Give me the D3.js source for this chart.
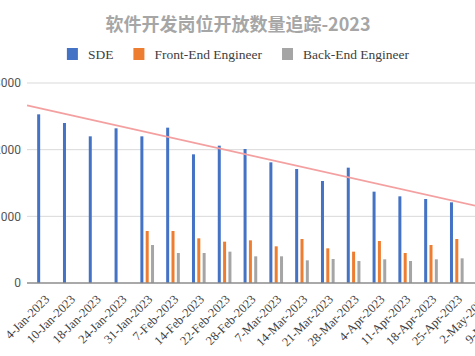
<!DOCTYPE html>
<html><head><meta charset="utf-8">
<script src="https://cdn.jsdelivr.net/npm/d3@7"></script>
<style>body{margin:0;background:#fff;overflow:hidden}svg{display:block}</style>
</head><body>
<svg id="c" width="475" height="356"></svg>
<script>
const categories = ["4-Jan-2023","10-Jan-2023","18-Jan-2023","24-Jan-2023","31-Jan-2023","7-Feb-2023","14-Feb-2023","22-Feb-2023","28-Feb-2023","7-Mar-2023","14-Mar-2023","21-Mar-2023","28-Mar-2023","4-Apr-2023","11-Apr-2023","18-Apr-2023","25-Apr-2023","2-May-2023","9-May-2023"];
const sde      = [2530,2400,2200,2320,2200,2330,1930,2060,2010,1810,1710,1530,1730,1370,1300,1260,1210,1150,1100];
const frontEnd = [0,0,0,0,780,780,670,620,640,550,660,520,470,630,450,570,660,600,580];
const backEnd  = [0,0,0,0,570,450,450,470,400,400,340,360,330,355,330,355,370,360,350];
const seriesNames = ["SDE","Front-End Engineer","Back-End Engineer"];
const colors = ["#4472C4","#ED7D31","#A5A5A5"];
const yTicks = [0,1000,2000,3000];
const trendCats = ["4-Jan-2023","2-May-2023"];
const trendVals = [2607,1136];
const title = "软件开发岗位开放数量追踪-2023";

const svg = d3.select("#c");
const W = 475, H = 356;
const step = 25.8, left = 31.1;
const x = d3.scaleBand().domain(categories).range([left, left + step*categories.length]).padding(0);
const cx = c => x(c) + x.bandwidth()/2;
const x1 = d3.scaleBand().domain(seriesNames).range([-6.83, 6.83]).paddingInner(0.4375).paddingOuter(0);
const y = d3.scaleLinear().domain([0,3000]).range([283,83]);

// gridlines
svg.append("g").selectAll("line").data(yTicks.filter(d=>d>0)).join("line")
  .attr("x1",27).attr("x2",W).attr("y1",d=>y(d)).attr("y2",d=>y(d))
  .attr("stroke","#d9d9d9").attr("stroke-width",1);

// y axis labels
const yAxis = d3.axisLeft(y).tickValues(yTicks).tickSize(0).tickPadding(0).tickFormat(d3.format("d"));
const ya = svg.append("g").attr("transform","translate(21,0)").call(yAxis);
ya.select(".domain").remove();
ya.selectAll("text").attr("font-family","Roboto, 'Liberation Sans', sans-serif").attr("font-size",12).attr("fill","#555");

// bars
const seriesData = [sde, frontEnd, backEnd];
seriesData.forEach((vals, si) => {
  svg.append("g").selectAll("rect").data(vals.map((v,i)=>({c:categories[i], v}))).join("rect")
    .attr("x", d => cx(d.c) + x1(seriesNames[si]))
    .attr("width", x1.bandwidth())
    .attr("y", d => y(d.v))
    .attr("height", d => y(0) - y(d.v))
    .attr("fill", colors[si]);
});

// baseline
svg.append("line").attr("x1",27).attr("x2",W).attr("y1",y(0)).attr("y2",y(0))
  .attr("stroke","#8c8c8c").attr("stroke-width",1.5);

// trend line
const tx0 = cx(trendCats[0]), tx1 = cx(trendCats[1]);
const ty0 = y(trendVals[0]), ty1 = y(trendVals[1]);
const slope = (ty1-ty0)/(tx1-tx0);
const xs = 27, xe = x.range()[1];
svg.append("line").attr("x1",xs).attr("y1",ty0 + slope*(xs-tx0))
  .attr("x2",xe).attr("y2",ty0 + slope*(xe-tx0))
  .attr("stroke","#F4A0A0").attr("stroke-width",1.8);

// x labels
const xa = svg.append("g");
xa.selectAll("text").data(categories).join("text")
  .attr("transform", c => `translate(${cx(c)+3},${297}) rotate(-45)`)
  .attr("text-anchor","end").attr("dy","0.35em")
  .attr("font-family","'Liberation Serif', 'Times New Roman', serif").attr("font-size",12.5)
  .attr("fill","#404040").text(c=>c);

// title
svg.append("text").attr("x",238).attr("y",31).attr("text-anchor","middle")
  .attr("font-family","'Noto Sans CJK SC', sans-serif").attr("font-weight","bold")
  .attr("font-size",18).attr("fill","#a6a6a6").text(title);

// legend
const lg = svg.append("g");
const items = lg.selectAll("g").data(seriesNames).join("g");
items.append("rect").attr("width",11).attr("height",12).attr("y",-6).attr("fill",(d,i)=>colors[i]);
items.append("text").attr("x",21).attr("dy","0.35em")
  .attr("font-family","'Liberation Serif', 'Times New Roman', serif").attr("font-size",13.5)
  .attr("fill","#404040").text(d=>d);
let pos = 0; const posArr = [];
items.each(function(){ const w = d3.select(this).select("text").node().getComputedTextLength(); posArr.push(pos); pos += 21 + w + 20; });
const total = pos - 20;
const startX = 238 - total/2;
items.attr("transform",(d,i)=>`translate(${startX+posArr[i]},54)`);
</script>
</body></html>
